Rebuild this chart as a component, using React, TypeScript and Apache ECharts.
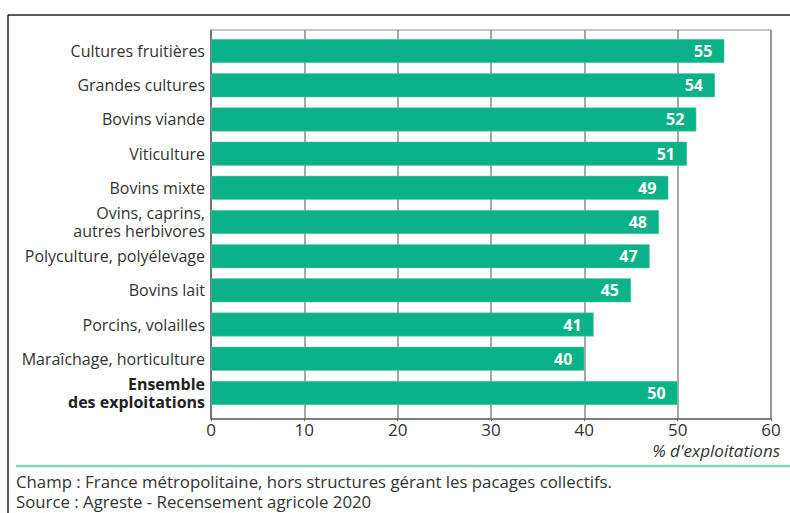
import React, { useEffect, useRef } from "react";
import * as echarts from "echarts";

const categories = [
  "Cultures fruitières",
  "Grandes cultures",
  "Bovins viande",
  "Viticulture",
  "Bovins mixte",
  "Ovins, caprins,\nautres herbivores",
  "Polyculture, polyélevage",
  "Bovins lait",
  "Porcins, volailles",
  "Maraîchage, horticulture",
  "Ensemble\ndes exploitations",
];
const values = [55, 54, 52, 51, 49, 48, 47, 45, 41, 40, 50];
const xTicks = [0, 10, 20, 30, 40, 50, 60];
const axisTitle = "% d'exploitations";
const noteChamp = "Champ : France métropolitaine, hors structures gérant les pacages collectifs.";
const noteSource = "Source : Agreste - Recensement agricole 2020";

const FONT = "'Open Sans', 'Noto Sans', sans-serif";
const GREEN = "#0cb287";

export default function App() {
  const ref = useRef<HTMLDivElement>(null);
  useEffect(() => {
    if (!ref.current) return;
    const chart = echarts.init(ref.current, undefined, { renderer: "svg" });
    const cats = [...categories].reverse();
    const vals = [...values].reverse();
    const xMin = xTicks[0];
    const xMax = xTicks[xTicks.length - 1];
    chart.setOption({
      animation: false,
      textStyle: { fontFamily: FONT },
      grid: [
        { left: 211, right: 19, top: 34, bottom: 103, show: false },
        { left: 211, right: 19, top: 30, bottom: 94, show: true, borderColor: "#8a8a8a", borderWidth: 1 },
      ],
      xAxis: [
        {
          gridIndex: 0,
          type: "value",
          min: xMin,
          max: xMax,
          interval: 10,
          show: false,
        },
        {
          gridIndex: 1,
          type: "value",
          min: xMin,
          max: xMax,
          interval: 10,
          axisLine: { show: true, lineStyle: { color: "#666", width: 1.5 } },
          axisTick: { show: true, length: 2, lineStyle: { color: "#666" } },
          splitLine: { show: true, lineStyle: { color: "#8a8a8a", width: 1.5 } },
          axisLabel: { color: "#333", fontSize: 17, lineHeight: 17, fontFamily: FONT, margin: 2 },
        },
      ],
      yAxis: [
        {
          gridIndex: 0,
          type: "category",
          data: cats,
          axisLine: { show: false },
          axisTick: { show: false },
          axisLabel: {
            color: "#333",
            fontSize: 16,
            fontFamily: FONT,
            margin: 6,
            formatter: (v: string) =>
              v.startsWith("Ensemble")
                ? v.split("\n").map((s) => `{b|${s}}`).join("\n")
                : v.split("\n").map((s) => `{n|${s}}`).join("\n"),
            rich: {
              n: { fontSize: 16, color: "#333", fontFamily: FONT, lineHeight: 18 },
              b: { fontSize: 16, color: "#222", fontWeight: "bold", fontFamily: FONT, lineHeight: 18 },
            },
          },
        },
        {
          gridIndex: 1,
          type: "value",
          min: 0,
          max: 1,
          axisLine: { show: true, lineStyle: { color: "#666", width: 1.5 } },
          axisTick: { show: false },
          axisLabel: { show: false },
          splitLine: { show: false },
        },
      ],
      series: [
        {
          type: "bar",
          xAxisIndex: 0,
          yAxisIndex: 0,
          data: vals,
          barWidth: 24,
          z: 3,
          itemStyle: { color: GREEN, borderColor: "#5fcfae", borderWidth: 0.5 },
          label: {
            show: true,
            position: "insideRight",
            distance: 12,
            color: "#fff",
            fontWeight: "bold",
            fontSize: 16,
            fontFamily: FONT,
          },
        },
      ],
      graphic: [
        { type: "line", shape: { x1: 8, y1: 15, x2: 790, y2: 15 }, style: { stroke: "#222", lineWidth: 1.5 } },
        { type: "line", shape: { x1: 8, y1: 15, x2: 8, y2: 513 }, style: { stroke: "#222", lineWidth: 1.5 } },
        { type: "line", shape: { x1: 16, y1: 466, x2: 790, y2: 466 }, style: { stroke: "#7fd6bb", lineWidth: 2.5 } },
        {
          type: "text",
          right: 10,
          top: 442,
          style: { text: axisTitle, fill: "#333", fontSize: 17, lineHeight: 17, fontStyle: "italic", fontFamily: FONT },
        },
        {
          type: "text",
          left: 16,
          top: 473,
          style: { text: noteChamp, fill: "#333", fontSize: 16.8, fontFamily: FONT },
        },
        {
          type: "text",
          left: 16,
          top: 493,
          style: { text: noteSource, fill: "#333", fontSize: 16.8, fontFamily: FONT },
        },
      ],
    });
    return () => chart.dispose();
  }, []);
  return <div ref={ref} style={{ width: 790, height: 513, position: "absolute", left: 0, top: 0 }} />;
}
